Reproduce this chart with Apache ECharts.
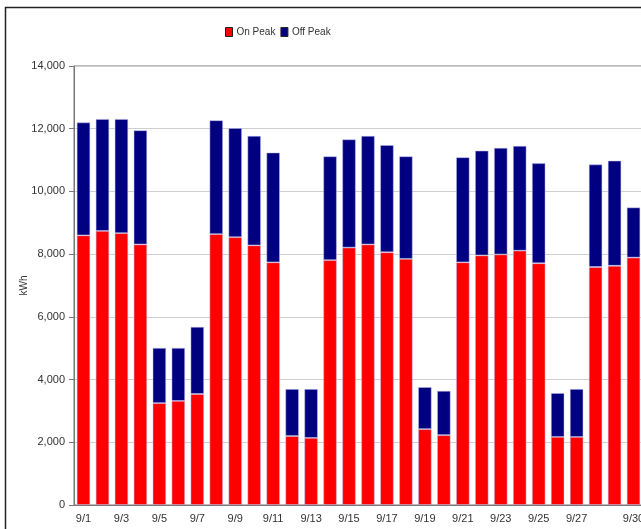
<!DOCTYPE html>
<html>
<head>
<meta charset="utf-8">
<script src="https://cdn.jsdelivr.net/npm/echarts@6/dist/echarts.min.js"></script>
<style>
html,body{margin:0;padding:0;background:#fff;}
#c{width:641px;height:529px;}
</style>
</head>
<body>
<div id="c"></div>
<script>
const categories = ['9/1','9/2','9/3','9/4','9/5','9/6','9/7','9/8','9/9','9/10','9/11','9/12','9/13','9/14','9/15','9/16','9/17','9/18','9/19','9/20','9/21','9/22','9/23','9/24','9/25','9/26','9/27','9/28','9/29','9/30'];
const onPeak = [8600,8740,8670,8310,3250,3320,3540,8640,8540,8280,7740,2200,2140,7810,8210,8310,8060,7850,2420,2230,7740,7960,7990,8110,7710,2170,2170,7590,7630,7890];
const offPeak = [3600,3570,3640,3640,1760,1690,2140,3630,3480,3490,3500,1500,1560,3310,3450,3460,3420,3270,1340,1410,3350,3340,3400,3340,3190,1400,1530,3270,3350,1600];
const yTicks = [0,2000,4000,6000,8000,10000,12000,14000];

const labelShown = (i) => (i % 2 === 0 && i !== 28) || i === 29;
const chart = echarts.init(document.getElementById('c'), null, {renderer:'canvas'});
const font = 'Liberation Sans, Arial, sans-serif';
chart.setOption({
  animation:false,
  backgroundColor:'#fff',
  graphic:[{type:'rect', shape:{x:5.5,y:7.5,width:900,height:900}, style:{fill:'none', stroke:'#222', lineWidth:1.5}, z:-1}],
  legend:{
    left:220, top:22, itemWidth:7, itemHeight:9, itemGap:5,
    icon:'rect',
    itemStyle:{borderColor:'#222', borderWidth:1},
    textStyle:{fontFamily:font, fontSize:10, color:'#333', padding:[0,0,0,-1]},
    data:['On Peak','Off Peak']
  },
  grid:{left:74, top:66, right:-2, bottom:24, show:true, borderColor:'#777', borderWidth:1, outerBoundsMode:'none', containLabel:false},
  xAxis:{
    type:'category', data:categories, boundaryGap:true,
    axisLine:{lineStyle:{color:'#777'}},
    axisTick:{alignWithLabel:true, interval:labelShown, length:5, lineStyle:{color:'#777'}},
    axisLabel:{interval:labelShown, fontFamily:font, fontSize:11, color:'#333', margin:8, hideOverlap:false}
  },
  yAxis:{
    type:'value', min:yTicks[0], max:yTicks[yTicks.length-1], interval:2000,
    name:'kWh', nameLocation:'middle', nameGap:45, nameRotate:90, nameMoveOverlap:false,
    nameTextStyle:{fontFamily:font, fontSize:10, color:'#333'},
    axisLine:{show:true, lineStyle:{color:'#777'}},
    axisTick:{show:true, length:5, lineStyle:{color:'#777'}},
    axisLabel:{fontFamily:font, fontSize:11, color:'#333', margin:9, formatter:(v)=>v.toLocaleString('en-US')},
    splitLine:{lineStyle:{color:'#cfcfcf'}}
  },
  series:[
    {name:'On Peak', type:'bar', stack:'t', data:onPeak, barWidth:13.5,
      itemStyle:{color:'#ff0000', borderColor:'rgba(190,190,235,0.6)', borderWidth:0.8}},
    {name:'Off Peak', type:'bar', stack:'t', data:offPeak, barWidth:13.5,
      itemStyle:{color:'#000080', borderColor:'rgba(190,190,235,0.6)', borderWidth:0.8}}
  ]
});
</script>
</body>
</html>
